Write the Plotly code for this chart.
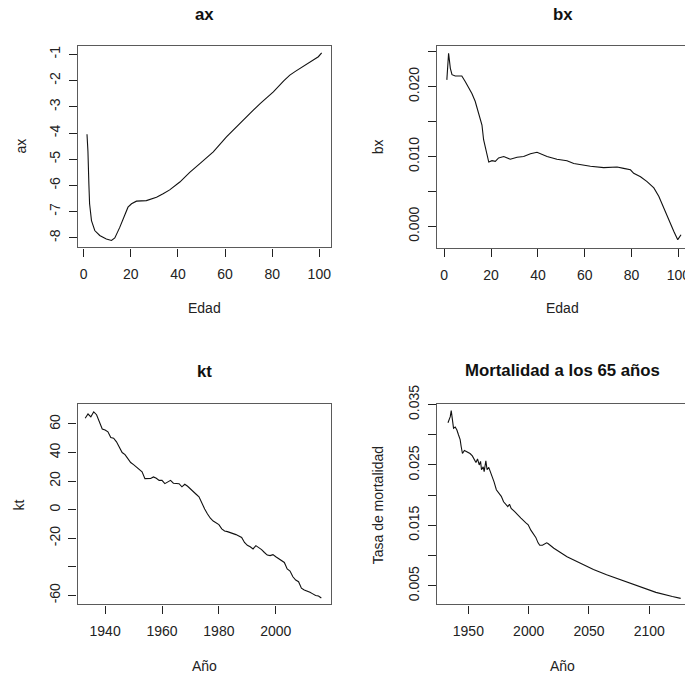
import plotly.graph_objects as go

# ---------------- data ----------------
ages_ax = [1.4, 1.8, 2.2, 2.5, 3.3, 4.7, 6.8, 9.6, 11.8, 13.2, 15.3, 17.4, 18.8, 20.3,
           22.4, 26.6, 30.9, 33.7, 36.5, 40.8, 45, 49.3, 55, 60.6, 65, 70.5, 75, 80.5,
           85, 87.5, 90, 91.8, 94, 96, 98, 99.6, 101]
ax_vals = [-4.05, -4.7, -5.95, -6.7, -7.34, -7.72, -7.91, -8.04, -8.1, -8.0, -7.6, -7.15,
           -6.83, -6.7, -6.6, -6.58, -6.45, -6.32, -6.17, -5.87, -5.5, -5.17, -4.72, -4.15,
           -3.74, -3.26, -2.87, -2.43, -2.0, -1.79, -1.64, -1.54, -1.4, -1.28, -1.18, -1.09, -0.94]

ages_bx = [1.1, 1.85, 2.6, 3.3, 4.7, 7.5, 9.0, 10.4, 11.8, 13.2, 14.7, 16.1, 16.8, 18.2, 19.0,
           20.4, 21.8, 23.2, 25.4, 28.2, 31.1, 33.9, 36.8, 39.6, 41.0, 43.9, 48.1, 52.4, 55.3,
           58.1, 62.4, 68.1, 73.8, 76.6, 79.5, 80.9, 83.8, 86.6, 89.5, 91.6, 93.7, 95.9, 98.0,
           99.7, 101.1]
bx_vals = [0.02095, 0.02476, 0.0226, 0.0217, 0.0215, 0.0215, 0.0207, 0.0199, 0.0190, 0.0179,
           0.0162, 0.0145, 0.0124, 0.0105, 0.0092, 0.0094, 0.0093, 0.0098, 0.0100, 0.0096,
           0.0099, 0.0100, 0.0104, 0.0106, 0.0104, 0.0100, 0.0096, 0.0094, 0.0090, 0.0088,
           0.0086, 0.0084, 0.0085, 0.0083, 0.0081, 0.0076, 0.0071, 0.0064, 0.0055, 0.0043,
           0.0026, 0.0010, -0.0007, -0.0019, -0.0012]

years_kt = list(range(1933, 2017))
kt_vals = [64.0, 67.0, 65.0, 68.5, 66.5, 62.0, 56.5, 55.8, 54.5, 50.5,
           50.0, 47.5, 43.5, 40.0, 38.5, 36.0, 33.0, 31.5, 29.8, 28.5,
           26.5, 21.7, 21.7, 21.8, 22.9, 22.0, 20.5, 20.5, 18.2, 19.4,
           20.5, 18.5, 18.2, 18.2, 16.0, 17.8, 16.4, 14.5, 12.0, 10.8,
           9.0, 4.5, 0.5, -3.0, -6.0, -8.0, -9.5, -10.5, -13.5, -15.0,
           -15.4, -16.0, -17.0, -17.5, -18.5, -19.5, -23.0, -25.0, -26.0, -27.5,
           -25.2, -26.5, -28.0, -30.0, -31.8, -32.2, -31.5, -33.0, -34.5, -35.5,
           -37.0, -41.5, -43.0, -47.0, -49.3, -50.5, -55.0, -56.3, -57.0, -57.8,
           -59.0, -60.2, -60.5, -61.9]

years_m65 = [1933.1, 1934.2, 1935.0, 1935.8, 1936.6, 1937.7, 1939.1, 1940.5, 1941.8, 1943.2,
             1944.0, 1945.1, 1946.7, 1948.6, 1951.4, 1953.3, 1954.9, 1956.3, 1957.6, 1959.0,
             1960.1, 1960.9, 1962.3, 1963.1, 1964.5, 1965.5, 1966.9, 1968.3, 1969.6, 1971.3,
             1973.2, 1975.1, 1977.3, 1979.2, 1981.4, 1982.7, 1984.1, 1985.5, 1988.2, 1990.9,
             1993.6, 1997.7, 1999.6, 2001.8, 2004.0, 2005.9, 2007.8, 2009.2, 2011.4, 2013.3,
             2014.9, 2016.0, 2020.9, 2031.8, 2042.7, 2053.7, 2064.6, 2078.2, 2091.8, 2105.5,
             2119.1, 2126.0]
m65_vals = [0.0320, 0.0326, 0.0330, 0.0340, 0.0327, 0.0311, 0.0313, 0.0308, 0.0300, 0.0292,
            0.0281, 0.0269, 0.0274, 0.0272, 0.0269, 0.0265, 0.0258, 0.0254, 0.0260, 0.0250,
            0.0256, 0.0242, 0.0247, 0.0239, 0.0257, 0.0242, 0.0246, 0.0239, 0.0231, 0.0222,
            0.0209, 0.0203, 0.0198, 0.0189, 0.0184, 0.0181, 0.0185, 0.0178, 0.0173, 0.0167,
            0.0162, 0.0154, 0.0151, 0.0142, 0.0136, 0.0130, 0.0121, 0.0117, 0.0117, 0.0119,
            0.0121, 0.0120, 0.0112, 0.0098, 0.0087, 0.0077, 0.0068, 0.0058, 0.0048, 0.0039,
            0.0032, 0.0029]

titles = ["ax", "bx", "kt", "Mortalidad a los 65 años"]
xlabels = ["Edad", "Edad", "Año", "Año"]
ylabels = ["ax", "bx", "kt", "Tasa de mortalidad"]

ax_xticks = [0, 20, 40, 60, 80, 100]
ax_yticks = [-1, -2, -3, -4, -5, -6, -7, -8]
bx_yticks = [0.000, 0.005, 0.010, 0.015, 0.020, 0.025]
bx_ytext = ["0.000", "", "0.010", "", "0.020", ""]
kt_xticks = [1940, 1960, 1980, 2000]
kt_yticks = [60, 40, 20, 0, -20, -40, -60]
kt_ytext = ["60", "40", "20", "0", "-20", "", "-60"]
m_xticks = [1950, 2000, 2050, 2100]
m_yticks = [0.005, 0.010, 0.015, 0.020, 0.025, 0.030, 0.035]
m_ytext = ["0.005", "", "0.015", "", "0.025", "", "0.035"]

# ---------------- layout geometry ----------------
W, H = 685, 674
FONT = "Liberation Sans, Arial, sans-serif"


def xd(a, b):
    return [a / W, b / W]


def yd(top, bottom):
    return [1 - bottom / H, 1 - top / H]


fig = go.Figure()
series = [(ages_ax, ax_vals), (ages_bx, bx_vals), (years_kt, kt_vals), (years_m65, m65_vals)]
for i, (xs, ys) in enumerate(series):
    sfx = "" if i == 0 else str(i + 1)
    fig.add_trace(go.Scatter(x=xs, y=ys, mode="lines", xaxis="x" + sfx, yaxis="y" + sfx,
                             line=dict(color="#111111", width=1.1), showlegend=False,
                             hoverinfo="skip"))

LINEC = "#5a5a5a"
common_x = dict(showgrid=False, zeroline=False, showline=True, linecolor=LINEC, linewidth=1.4,
                ticks="outside", ticklen=8, tickwidth=1, tickcolor="#222222",
                tickfont=dict(family=FONT, size=14, color="#222222"), ticklabelstandoff=6,
                automargin=False, ticklabeloverflow="allow")
common_y = dict(showgrid=False, zeroline=False, showline=True, linecolor=LINEC, linewidth=1.4,
                ticks="outside", ticklen=8, tickwidth=1, tickcolor="#222222", tickangle=-90,
                tickfont=dict(family=FONT, size=14, color="#222222"), ticklabelstandoff=3,
                automargin=False, ticklabeloverflow="allow")

doms = [
    (xd(78, 331), yd(45.7, 247.3)),
    (xd(437, 685), yd(46, 248)),
    (xd(77.5, 331), yd(404, 604.3)),
    (xd(437, 685), yd(404, 604.3)),
]
xranges = [[-2.42, 104.97], [-3.1, 102.8], [1930.3, 2019.4], [1924.0, 2129.6]]
yranges = [[-8.36, -0.67], [-0.00309, 0.0258], [-66.3, 74.0], [0.00192, 0.0351]]
xtv = [ax_xticks, ax_xticks, kt_xticks, m_xticks]
ytv = [(ax_yticks, [str(v) for v in ax_yticks]), (bx_yticks, bx_ytext),
       (kt_yticks, kt_ytext), (m_yticks, m_ytext)]

layout = dict(width=W, height=H, autosize=False, margin=dict(l=0, r=0, t=0, b=0, pad=0),
              paper_bgcolor="white", plot_bgcolor="white", showlegend=False)
for i in range(4):
    sfx = "" if i == 0 else str(i + 1)
    right = i in (1, 3)
    xa = dict(common_x, domain=doms[i][0], range=xranges[i], tickvals=xtv[i],
              ticktext=[str(v) for v in xtv[i]], anchor="y" + sfx, mirror=True)
    ya = dict(common_y, domain=doms[i][1], range=yranges[i], tickvals=ytv[i][0],
              ticktext=ytv[i][1], anchor="x" + sfx, mirror=(not right))
    layout["xaxis" + sfx] = xa
    layout["yaxis" + sfx] = ya

annotations = []
title_pos = [(204.5, 14), (562.5, 14), (204.5, 371.5), (562.5, 370.5)]
xlab_pos = [(204, 308), (562, 308), (204, 666), (562, 666)]
ylab_pos = [(20, 146.5), (378.3, 147), (18.5, 505), (378.3, 505)]
for i in range(4):
    tx, ty = title_pos[i]
    annotations.append(dict(text="<b>" + titles[i] + "</b>", x=tx / W, y=1 - ty / H,
                            xref="paper", yref="paper", showarrow=False, xanchor="center",
                            yanchor="middle", font=dict(family=FONT, size=16.8, color="#111111")))
    lx, ly = xlab_pos[i]
    annotations.append(dict(text=xlabels[i], x=lx / W, y=1 - ly / H, xref="paper", yref="paper",
                            showarrow=False, xanchor="center", yanchor="middle",
                            font=dict(family=FONT, size=14, color="#222222")))
    yx, yy = ylab_pos[i]
    annotations.append(dict(text=ylabels[i], x=yx / W, y=1 - yy / H, xref="paper", yref="paper",
                            showarrow=False, xanchor="center", yanchor="middle", textangle=-90,
                            font=dict(family=FONT, size=14, color="#222222")))
layout["annotations"] = annotations

fig.update_layout(**layout)
fig.write_html("out.html", config={"displayModeBar": False})

# remove the browser's default page margin so the figure starts at the window corner
with open("out.html", "r", encoding="utf-8") as f:
    html = f.read()
html = html.replace("<head>", "<head><style>html,body{margin:0;padding:0;overflow:hidden;}</style>", 1)
with open("out.html", "w", encoding="utf-8") as f:
    f.write(html)
